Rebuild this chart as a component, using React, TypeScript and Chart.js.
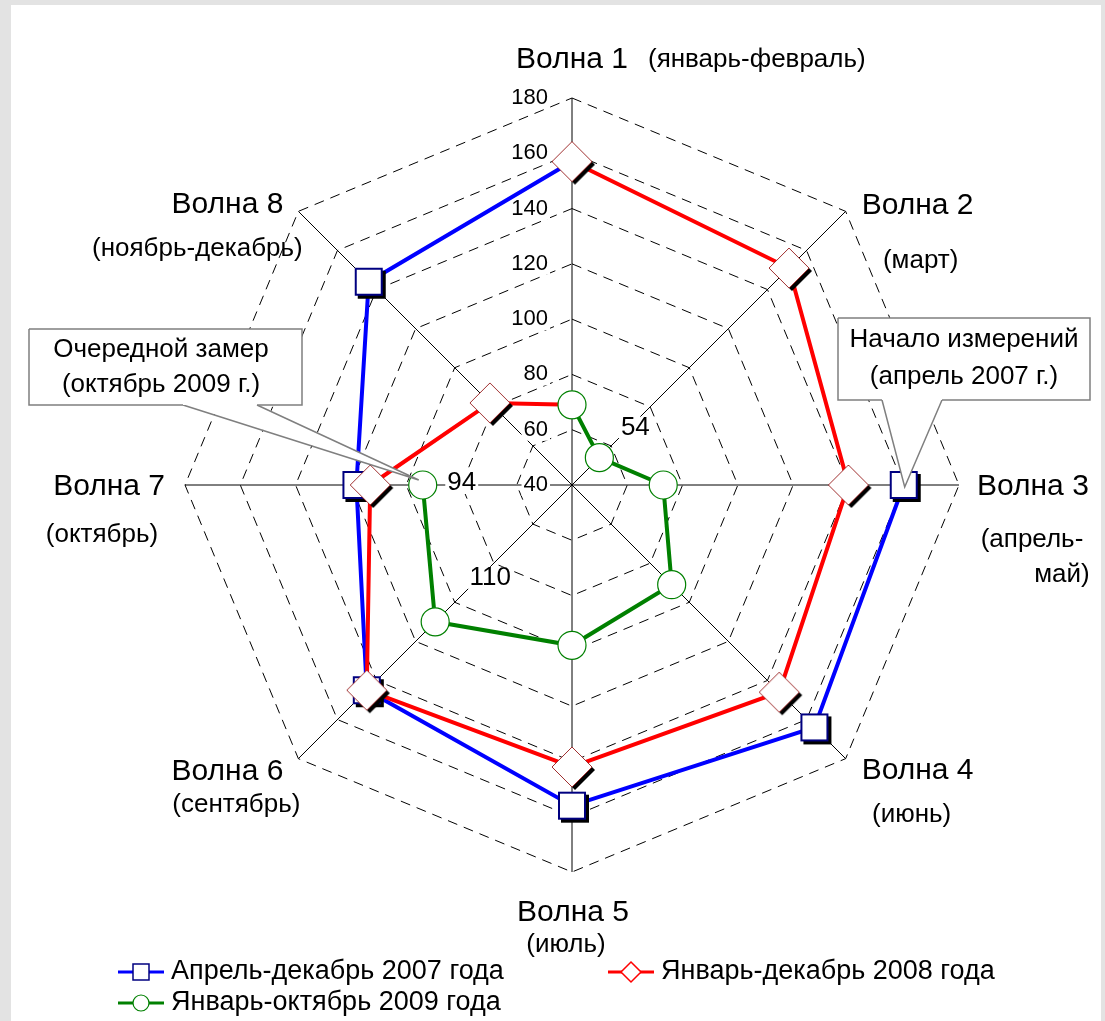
import React, { useEffect, useRef } from "react";
import { Chart, registerables } from "chart.js";

Chart.register(...registerables);

// ---------- data ----------
const waves = ["Волна 1", "Волна 2", "Волна 3", "Волна 4", "Волна 5", "Волна 6", "Волна 7", "Волна 8"];
const periods = [
  ["(январь-февраль)"],
  ["(март)"],
  ["(апрель-", "май)"],
  ["(июнь)"],
  ["(июль)"],
  ["(сентябрь)"],
  ["(октябрь)"],
  ["(ноябрь-декабрь)"],
];
const radialTicks = [40, 60, 80, 100, 120, 140, 160, 180];
const series2007: (number | null)[] = [null, null, 160, 164, 156, 145, 118, 144];
const series2008: (number | null)[] = [157, 151, 140, 146, 142, 145, 113, 82];
const series2009: (number | null)[] = [69, 54, 73, 91, 98, 110, 94, null];
const seriesNames = ["Апрель-декабрь 2007 года", "Январь-декабрь 2008 года", "Январь-октябрь 2009 года"];
const labeled2009 = [1, 5, 6];
const calloutLast = ["Очередной замер", "(октябрь 2009 г.)"];
const calloutFirst = ["Начало измерений", "(апрель 2007 г.)"];

// connecting lines (2007 continues into Jan 2008, 2008 continues into Jan 2009)
const line2007 = series2007.map((v, i) => (i === 0 ? series2008[0] : v));
const line2008a = series2008.map((v, i) => (i === 7 ? null : v));
const line2008b = series2008.map((v, i) => (i === 0 ? series2009[0] : i >= 6 ? v : null));

// ---------- styles ----------
const FONT = '"Liberation Sans", Arial, sans-serif';
const BLUE = "#0000ff";
const RED = "#ff0000";
const GREEN = "#008000";

const labelLayout = [
  { t: [0, -38, "center"], s: [[76, -38, "left"]] },
  { t: [16, -6, "left"], s: [[75, 49, "center"]] },
  { t: [18, 2, "left"], s: [[73, 55, "center"], [103, 90, "center"]] },
  { t: [16, 12, "left"], s: [[66, 56, "center"]] },
  { t: [1, 41, "center"], s: [[-6, 73, "center"]] },
  { t: [-15, 13, "right"], s: [[-62, 46, "center"]] },
  { t: [-20, 2, "right"], s: [[-83, 50, "center"]] },
  { t: [-15, -7, "right"], s: [[-101, 37, "center"]] },
] as const;

const dataLabelOffsets: Record<number, [number, number]> = { 1: [36, -30], 5: [55, -44], 6: [39, -2] };

function makeSquare(): HTMLCanvasElement {
  const half = 14, sh = 3;
  const size = (half + sh + 1) * 2;
  const c = document.createElement("canvas");
  c.width = size; c.height = size;
  const ctx = c.getContext("2d")!;
  const m = size / 2;
  ctx.fillStyle = "#000";
  ctx.fillRect(m - half + sh, m - half + sh, half * 2, half * 2);
  ctx.fillStyle = "#fff";
  ctx.fillRect(m - half, m - half, half * 2, half * 2);
  ctx.strokeStyle = "#000080";
  ctx.lineWidth = 2;
  ctx.strokeRect(m - half + 1, m - half + 1, half * 2 - 2, half * 2 - 2);
  return c;
}

function diamondPath(ctx: CanvasRenderingContext2D, x: number, y: number, r: number) {
  ctx.beginPath();
  ctx.moveTo(x, y - r);
  ctx.lineTo(x + r, y);
  ctx.lineTo(x, y + r);
  ctx.lineTo(x - r, y);
  ctx.closePath();
}

function makeDiamond(): HTMLCanvasElement {
  const r = 20, sh = 3;
  const size = (r + sh + 2) * 2;
  const c = document.createElement("canvas");
  c.width = size; c.height = size;
  const ctx = c.getContext("2d")!;
  const m = size / 2;
  diamondPath(ctx, m + sh, m + sh, r);
  ctx.fillStyle = "#000";
  ctx.fill();
  diamondPath(ctx, m, m, r);
  ctx.fillStyle = "#fff";
  ctx.fill();
  ctx.strokeStyle = "#a03030";
  ctx.lineWidth = 1;
  ctx.stroke();
  return c;
}

function textBox(ctx: CanvasRenderingContext2D, text: string, x: number, y: number, font: string, align: CanvasTextAlign, backdrop: boolean) {
  ctx.font = font;
  ctx.textAlign = align;
  ctx.textBaseline = "middle";
  if (backdrop) {
    const w = ctx.measureText(text).width;
    const left = align === "center" ? x - w / 2 : align === "right" ? x - w : x;
    ctx.fillStyle = "#fff";
    ctx.fillRect(left - 2, y - 11, w + 4, 22);
  }
  ctx.fillStyle = "#000";
  ctx.fillText(text, x, y);
}

function drawCallout(ctx: CanvasRenderingContext2D, box: { x: number; y: number; w: number; h: number }, base: [number, number], tip: { x: number; y: number }, lines: string[], textX: number, textYs: number[]) {
  ctx.save();
  ctx.strokeStyle = "#7f7f7f";
  ctx.lineWidth = 1.5;
  ctx.beginPath();
  ctx.moveTo(base[0], box.y + box.h - 1);
  ctx.lineTo(tip.x, tip.y);
  ctx.lineTo(base[1], box.y + box.h - 1);
  ctx.closePath();
  ctx.fillStyle = "#fff";
  ctx.fill();
  ctx.beginPath();
  ctx.moveTo(base[0], box.y + box.h);
  ctx.lineTo(tip.x, tip.y);
  ctx.lineTo(base[1], box.y + box.h);
  ctx.stroke();
  ctx.fillStyle = "#fff";
  ctx.fillRect(box.x, box.y, box.w, box.h);
  ctx.beginPath();
  ctx.moveTo(box.x, box.y);
  ctx.lineTo(box.x + box.w, box.y);
  ctx.lineTo(box.x + box.w, box.y + box.h);
  ctx.lineTo(base[1], box.y + box.h);
  ctx.moveTo(base[0], box.y + box.h);
  ctx.lineTo(box.x, box.y + box.h);
  ctx.lineTo(box.x, box.y);
  ctx.stroke();
  lines.forEach((l, i) => textBox(ctx, l, textX, textYs[i], `26px ${FONT}`, "center", false));
  ctx.restore();
}

function legendMarker(ctx: CanvasRenderingContext2D, kind: number, x: number, y: number) {
  const colors = [BLUE, RED, GREEN];
  ctx.save();
  ctx.strokeStyle = colors[kind];
  ctx.lineWidth = 3;
  ctx.beginPath();
  ctx.moveTo(x - 23, y);
  ctx.lineTo(x + 23, y);
  ctx.stroke();
  ctx.fillStyle = "#fff";
  ctx.lineWidth = 1.5;
  if (kind === 0) {
    ctx.strokeStyle = "#000080";
    ctx.fillRect(x - 8, y - 8, 16, 16);
    ctx.strokeRect(x - 8, y - 8, 16, 16);
  } else if (kind === 1) {
    ctx.strokeStyle = RED;
    diamondPath(ctx, x, y, 10);
    ctx.fill();
    ctx.stroke();
  } else {
    ctx.strokeStyle = GREEN;
    ctx.lineWidth = 1.2;
    ctx.beginPath();
    ctx.arc(x, y, 8, 0, Math.PI * 2);
    ctx.fill();
    ctx.stroke();
  }
  ctx.restore();
}

const decorPlugin = {
  id: "decor",
  beforeDatasetsDraw(chart: any) {
    const ctx: CanvasRenderingContext2D = chart.ctx;
    const r = chart.scales.r;
    ctx.save();
    radialTicks.forEach((v) => {
      const y = r.yCenter - r.getDistanceFromCenterForValue(v);
      textBox(ctx, String(v), r.xCenter - 24, y, `22px ${FONT}`, "right", true);
    });
    ctx.restore();
  },
  afterDatasetsDraw(chart: any) {
    const ctx: CanvasRenderingContext2D = chart.ctx;
    const r = chart.scales.r;
    ctx.save();
    // value labels on 2009 series
    const meta2009 = chart.getDatasetMeta(0);
    labeled2009.forEach((i) => {
      const p = meta2009.data[i];
      const [dx, dy] = dataLabelOffsets[i];
      textBox(ctx, String(series2009[i]), p.x + dx, p.y + dy, `26px ${FONT}`, "center", true);
    });
    // axis titles
    waves.forEach((w, i) => {
      const v = r.getPointPosition(i, r.drawingArea);
      const lay = labelLayout[i];
      textBox(ctx, w, v.x + lay.t[0], v.y + lay.t[1], `30px ${FONT}`, lay.t[2] as CanvasTextAlign, false);
      periods[i].forEach((s, k) => {
        const sl = lay.s[k];
        textBox(ctx, s, v.x + sl[0], v.y + sl[1], `26px ${FONT}`, sl[2] as CanvasTextAlign, false);
      });
    });
    // callouts
    const pLast = meta2009.data[6];
    drawCallout(ctx, { x: 29, y: 329, w: 273, h: 76 }, [183, 257], { x: pLast.x - 4, y: pLast.y - 5 }, calloutLast, 161, [350, 385]);
    const meta2007 = chart.getDatasetMeta(5);
    const pFirst = meta2007.data[2];
    drawCallout(ctx, { x: 838, y: 318, w: 252, h: 82 }, [882, 942], { x: pFirst.x + 1, y: pFirst.y + 2 }, calloutFirst, 964, [340, 377]);
    // legend
    const legendPos = [
      [141, 972],
      [631, 972],
      [141, 1003],
    ];
    seriesNames.forEach((n, k) => {
      const [x, y] = legendPos[k];
      legendMarker(ctx, k, x, y);
      textBox(ctx, n, x + 30, y, `27px ${FONT}`, "left", false);
    });
    ctx.restore();
  },
};

export default function App() {
  const ref = useRef<HTMLCanvasElement>(null);
  useEffect(() => {
    const canvas = ref.current!;
    const sq = makeSquare();
    const dm = makeDiamond();
    const lineBase = { pointRadius: 0, pointHoverRadius: 0, borderWidth: 4, fill: false, tension: 0, spanGaps: false, backgroundColor: "transparent" };
    const chart = new Chart(canvas, {
      type: "radar",
      data: {
        labels: waves,
        datasets: [
          { label: seriesNames[2], data: series2009, showLine: false, fill: false, pointStyle: "circle", pointRadius: 14, pointHoverRadius: 14, pointBackgroundColor: "#fff", pointBorderColor: GREEN, pointBorderWidth: 1.2, order: 0 },
          { label: seriesNames[2] + " line", data: series2009, borderColor: GREEN, order: 1, ...lineBase },
          { label: seriesNames[1], data: series2008, showLine: false, fill: false, pointStyle: dm, pointRadius: 19, pointHoverRadius: 19, order: 2 },
          { label: seriesNames[1] + " line", data: line2008a, borderColor: RED, order: 3, ...lineBase },
          { label: seriesNames[1] + " link", data: line2008b, borderColor: RED, order: 3, ...lineBase },
          { label: seriesNames[0], data: series2007, showLine: false, fill: false, pointStyle: sq, pointRadius: 14, pointHoverRadius: 14, order: 4 },
          { label: seriesNames[0] + " line", data: line2007, borderColor: BLUE, order: 5, ...lineBase },
        ] as any,
      },
      options: {
        responsive: false,
        maintainAspectRatio: false,
        animation: false,
        events: [],
        devicePixelRatio: 1,
        layout: { padding: { left: 185, right: 146, top: 98, bottom: 149 } },
        plugins: { legend: { display: false }, tooltip: { enabled: false } },
        elements: { line: { fill: false, tension: 0 } },
        scales: {
          r: {
            min: 40,
            max: 180,
            afterBuildTicks: (s: any) => {
              s.ticks = radialTicks.map((v) => ({ value: v }));
            },
            ticks: { stepSize: 20, display: false },
            grid: { color: "#000", lineWidth: 1, borderDash: [10, 7] } as any,
            border: { dash: [10, 7] } as any,
            angleLines: { color: "#000", lineWidth: 1 },
            pointLabels: { display: false },
          },
        },
      } as any,
      plugins: [decorPlugin],
    });
    return () => chart.destroy();
  }, []);

  return (
    <div style={{ position: "absolute", left: 0, top: 0, width: 1105, height: 1021, background: "#e3e3e3", overflow: "hidden" }}>
      <div style={{ position: "absolute", left: 11, top: 5, width: 1090, height: 1016, background: "#ffffff" }} />
      <canvas ref={ref} width={1105} height={1021} style={{ position: "absolute", left: 0, top: 0, width: 1105, height: 1021 }} />
    </div>
  );
}
